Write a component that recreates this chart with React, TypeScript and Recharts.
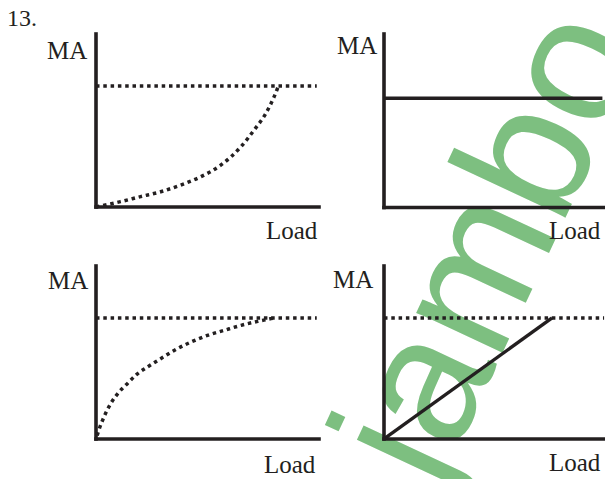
import { Line, LineChart, XAxis, YAxis } from 'recharts'

const INK = '#231f20'
const WATERMARK = '#7dbf80'
const DOTTED = '3.5 3.8'

const limitMA = 70

const curveUpLoad = [0, 10.9, 19.8, 28.7, 37.6, 46.5, 55.5, 64.4, 70.2, 75.5, 79.1, 81]
const curveUpMA = [0, 3.1, 6.0, 8.8, 12.7, 17.5, 24.3, 34.9, 44.5, 54.3, 63.8, 70]
const limitTopLeftLoad = [0, 98]

const flatMA = 63
const flatLoad = [0, 98.6]

const curveDownLoad = [0.5, 1.2, 3.5, 6.5, 10.2, 13.9, 18.4, 22.8, 28.7, 34.7, 42.1, 49.5, 56.9, 64.4, 71.8, 77.7, 79]
const curveDownMA = [2, 4.9, 12.6, 20.4, 27.1, 32, 37.7, 41.6, 46.4, 51.2, 56, 59.9, 62.8, 65.7, 68, 69.6, 70]
const limitBottomLeftLoad = [0, 98]

const limitBottomRightLoad = [0, 99.5]
const rampLoad = [0, 76]
const rampMA = [0, 70]

type Pt = { load: number; ma: number }
const zip = (xs: number[], ys: number[]): Pt[] => xs.map((x, i) => ({ load: x, ma: ys[i] }))
const level = (xs: number[], y: number): Pt[] => xs.map((x) => ({ load: x, ma: y }))

type Series = { data: Pt[]; dotted?: boolean; curved?: boolean }

const PAD = 6
const AXIS = 2

type PanelProps = {
  left: number
  top: number
  right: number
  bottom: number
  xMax: number
  series: Series[]
}

function Panel({ left, top, right, bottom, xMax, series }: PanelProps) {
  const w = right - left
  const h = bottom - top
  const axisStyle = { stroke: INK, strokeWidth: 3.6, strokeLinecap: 'square' as const }
  return (
    <div style={{ position: 'absolute', left: left - PAD, top: top - PAD, zIndex: 1 }}>
      <LineChart
        width={w + PAD * 2}
        height={h + PAD * 2}
        margin={{ top: PAD, right: PAD, bottom: PAD - AXIS, left: PAD - AXIS }}
      >
        <XAxis
          type="number"
          dataKey="load"
          domain={[0, xMax]}
          height={AXIS}
          tick={false}
          tickLine={false}
          axisLine={axisStyle}
        />
        <YAxis
          type="number"
          dataKey="ma"
          domain={[0, 100]}
          width={AXIS}
          tick={false}
          tickLine={false}
          axisLine={axisStyle}
        />
        {series.map((s, i) => (
          <Line
            key={i}
            data={s.data}
            dataKey="ma"
            type={s.curved ? 'monotone' : 'linear'}
            stroke={INK}
            strokeWidth={s.dotted ? 3.5 : 3.4}
            strokeDasharray={s.dotted ? DOTTED : undefined}
            dot={false}
            activeDot={false}
            isAnimationActive={false}
          />
        ))}
      </LineChart>
    </div>
  )
}

const labelFont = { fontFamily: '"Liberation Serif", "Times New Roman", serif', fill: INK }

export default function App() {
  return (
    <div style={{ position: 'absolute', left: 0, top: 0, width: 605, height: 479, overflow: 'hidden', background: '#fff' }}>
      <svg width={605} height={479} style={{ position: 'absolute', left: 0, top: 0, zIndex: 0 }}>
        <text
          transform="translate(438,491) rotate(-65)"
          fontFamily='"Liberation Sans", Arial, sans-serif'
          fontSize={180}
          fill={WATERMARK}
        >
          jambo
        </text>
      </svg>

      <Panel
        left={95.5}
        top={34}
        right={318.5}
        bottom={207}
        xMax={99}
        series={[
          { data: level(limitTopLeftLoad, limitMA), dotted: true },
          { data: zip(curveUpLoad, curveUpMA), dotted: true, curved: true },
        ]}
      />
      <Panel
        left={383.5}
        top={34}
        right={605}
        bottom={207.5}
        xMax={100}
        series={[{ data: level(flatLoad, flatMA) }]}
      />
      <Panel
        left={95.5}
        top={265.5}
        right={318.5}
        bottom={438.5}
        xMax={99}
        series={[
          { data: level(limitBottomLeftLoad, limitMA), dotted: true },
          { data: zip(curveDownLoad, curveDownMA), dotted: true, curved: true },
        ]}
      />
      <Panel
        left={383.8}
        top={265.5}
        right={605}
        bottom={438.5}
        xMax={100}
        series={[
          { data: level(limitBottomRightLoad, limitMA), dotted: true },
          { data: zip(rampLoad, rampMA) },
        ]}
      />

      <svg width={605} height={479} style={{ position: 'absolute', left: 0, top: 0, zIndex: 2, pointerEvents: 'none' }}>
        <text x={7} y={26} fontSize={24} {...labelFont}>13.</text>
        <text x={47} y={59} fontSize={25} {...labelFont}>MA</text>
        <text x={266} y={239} fontSize={25} {...labelFont}>Load</text>
        <text x={337} y={54} fontSize={25} {...labelFont}>MA</text>
        <text x={549} y={239} fontSize={25} {...labelFont}>Load</text>
        <text x={48} y={289} fontSize={25} {...labelFont}>MA</text>
        <text x={264} y={473} fontSize={25} {...labelFont}>Load</text>
        <text x={333} y={288} fontSize={25} {...labelFont}>MA</text>
        <text x={549} y={471} fontSize={25} {...labelFont}>Load</text>
      </svg>
    </div>
  )
}
